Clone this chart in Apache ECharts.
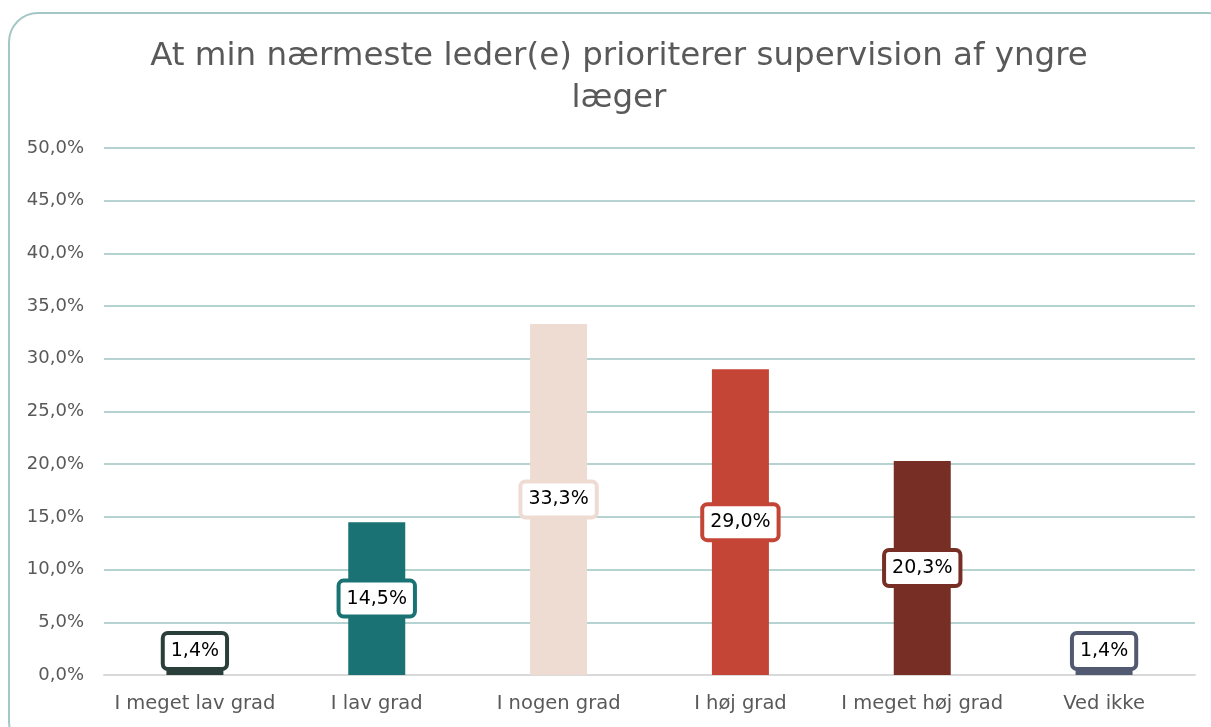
<!DOCTYPE html>
<html>
<head>
<meta charset="utf-8">
<script src="https://cdn.jsdelivr.net/npm/echarts@6/dist/echarts.min.js"></script>
<style>
  html, body { margin: 0; padding: 0; background: #fff; overflow: hidden; }
  #frame {
    position: absolute; left: 8px; top: 12px; width: 1230px; height: 740px;
    border: 2px solid #a3c8c3; border-radius: 30px; box-sizing: border-box;
  }
  #chart { position: absolute; left: 0; top: 0; width: 1211px; height: 727px; }
</style>
</head>
<body>
<div id="frame"></div>
<div id="chart"></div>
<script>
const title = 'At min nærmeste leder(e) prioriterer supervision af yngre\nlæger'
const categories = ['I meget lav grad', 'I lav grad', 'I nogen grad', 'I høj grad', 'I meget høj grad', 'Ved ikke']
const values = [1.4, 14.5, 33.3, 29.0, 20.3, 1.4]
const barColors = ['#2b3f3a', '#1b7275', '#eedcd3', '#c44536', '#772e25', '#525a71']

const fmt = v => v.toFixed(1).replace('.', ',') + '%'

const chart = echarts.init(document.getElementById('chart'))

const option = {
  animation: false,
  textStyle: { fontFamily: 'DejaVu Sans' },
  title: {
    text: title,
    left: 614,
    textAlign: 'center',
    top: 31,
    textStyle: { fontSize: 32.5, fontWeight: 'normal', color: '#595959', lineHeight: 42, fontFamily: 'DejaVu Sans' }
  },
  grid: { left: 104, right: 16, top: 148, bottom: 52, containLabel: false },
  xAxis: {
    type: 'category',
    data: categories,
    axisLine: { lineStyle: { color: '#d9d9d9', width: 2 } },
    axisTick: { show: false },
    axisLabel: { color: '#595959', fontSize: 19.5, margin: 19, interval: 0 }
  },
  yAxis: {
    type: 'value',
    min: 0, max: 50, interval: 5,
    axisLine: { show: false },
    axisTick: { show: false },
    splitLine: { lineStyle: { color: '#9cc5c0', width: 1.5 } },
    axisLabel: { color: '#595959', fontSize: 18, margin: 20, formatter: v => fmt(v) }
  },
  series: [{
    type: 'bar',
    barWidth: 57,
    data: values.map((v, i) => {
      const small = v < 5
      return {
        value: v,
        itemStyle: { color: barColors[i] },
        label: {
          position: small ? 'insideBottom' : 'inside',
          distance: small ? 8 : 0,
          borderColor: barColors[i]
        }
      }
    }),
    label: {
      show: true,
      formatter: p => fmt(p.value),
      color: '#000',
      fontSize: 19,
      backgroundColor: '#fff',
      borderWidth: 4,
      borderRadius: 3,
      padding: [7, 6, 6, 6]
    }
  }]
}

chart.setOption(option)
</script>
</body>
</html>
